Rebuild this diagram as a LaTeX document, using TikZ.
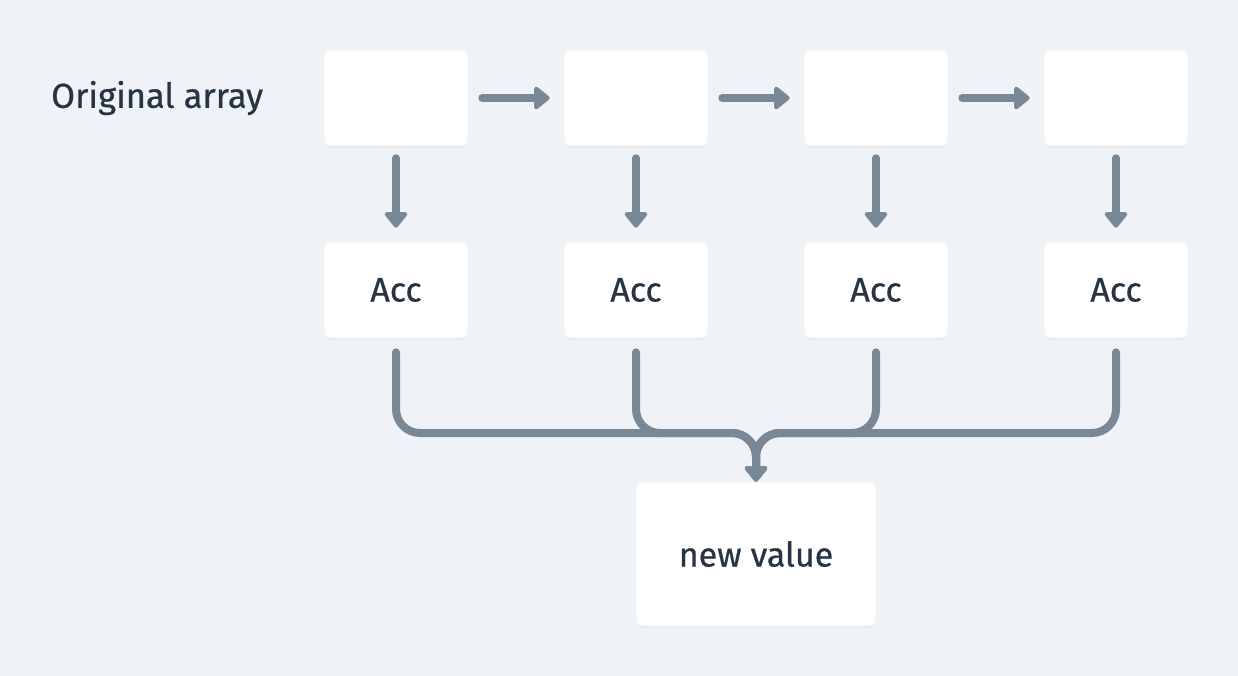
\documentclass[tikz,border=0pt]{standalone}
\usepackage{fontspec}
\setmainfont{Fira Sans}
\newfontfamily\cellfont{Fira Sans}[FakeBold=0.6]
\usetikzlibrary{arrows.meta, shadows, positioning}
\definecolor{arraybg}{RGB}{239, 243, 247}
\definecolor{arrayline}{RGB}{122, 136, 150}
\definecolor{arraytext}{RGB}{38, 52, 68}

\begin{document}
\begin{tikzpicture}[
    x=1pt, y=-1pt,
    cell/.style={
        rectangle,
        rounded corners=6pt,
        fill=white,
        draw=black!5,
        line width=0.6pt,
        minimum width=144pt,
        minimum height=96pt,
        inner sep=0pt,
        text=arraytext,
        font=\cellfont\fontsize{34}{40}\selectfont,
        drop shadow={shadow xshift=0pt, shadow yshift=-2pt, opacity=0.03, fill=black}
    },
    result/.style={
        cell,
        minimum width=240pt,
        minimum height=144pt
    },
    flow/.style={
        -{Triangle[width=26pt, length=17pt, round]},
        line width=8pt,
        line cap=round,
        arrayline
    },
    label/.style={
        font=\cellfont\fontsize{34.5}{40}\selectfont,
        text=arraytext,
        inner sep=0pt
    }
]

% Background
\fill[arraybg] (0,0) rectangle (1238,676);
\useasboundingbox (0,0) rectangle (1238,676);

% Title on the left
\node[label, anchor=west] (title) at (51,98) {Original array};

% Array cells and accumulators
\foreach \i/\x in {1/396, 2/636, 3/876, 4/1116} {
    \node[cell] (item\i) at (\x,98) {};
    \node[cell] (acc\i) at (\x,290) {Acc};
}

% Result
\node[result] (newval) at (756,554) {new value};
\coordinate (join) at (756,433);

% Arrows along the array
\foreach \i/\j in {1/2, 2/3, 3/4} {
    \draw[flow, shorten <=14pt, shorten >=14pt] (item\i) -- (item\j);
}

% Arrows down to the accumulators
\foreach \i in {1,...,4} {
    \draw[flow, shorten <=12pt, shorten >=14pt] (item\i) -- (acc\i);
}

% Merge into the new value
\foreach \i in {1,...,4} {
    \draw[flow, rounded corners=24pt] ([yshift=-14pt]acc\i.south) -- (acc\i.south |- join) -- (join) -- (newval.north);
}

\end{tikzpicture}
\end{document}
